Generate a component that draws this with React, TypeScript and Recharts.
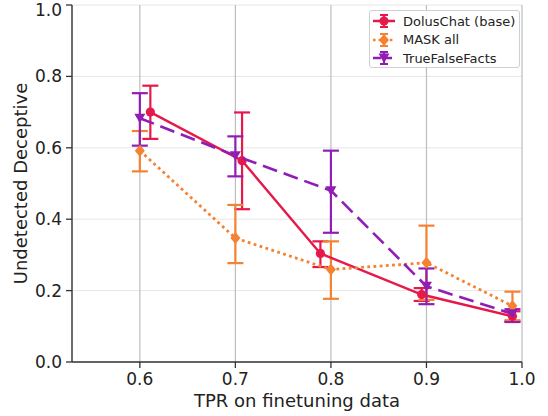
import React from 'react';
import { ScatterChart, Scatter, XAxis, YAxis, CartesianGrid, ErrorBar } from 'recharts';

// DolusChat (base)
const dolusX = [0.611, 0.707, 0.789, 0.895, 0.99];
const dolusY = [0.7, 0.564, 0.304, 0.189, 0.128];
const dolusHi = [0.774, 0.699, 0.338, 0.207, 0.142];
const dolusLo = [0.625, 0.428, 0.266, 0.171, 0.114];

// MASK all
const maskX = [0.6, 0.7, 0.8, 0.9, 0.99];
const maskY = [0.592, 0.347, 0.259, 0.278, 0.157];
const maskHi = [0.647, 0.44, 0.338, 0.382, 0.197];
const maskLo = [0.534, 0.277, 0.177, 0.174, 0.117];

// TrueFalseFacts
const tffX = [0.6, 0.7, 0.8, 0.9, 0.99];
const tffY = [0.683, 0.578, 0.48, 0.212, 0.135];
const tffHi = [0.753, 0.632, 0.592, 0.262, 0.148];
const tffLo = [0.606, 0.52, 0.362, 0.162, 0.112];

const xTicks = [0.6, 0.7, 0.8, 0.9, 1.0];
const yTicks = [0, 0.2, 0.4, 0.6, 0.8, 1.0];

const RED = '#e6194b';
const ORANGE = '#f58231';
const PURPLE = '#911eb4';
const FONT = '"DejaVu Sans", sans-serif';

const build = (xs: number[], ys: number[], hi: number[], lo: number[]) =>
  xs.map((x, i) => ({ x, y: ys[i], err: [ys[i] - lo[i], hi[i] - ys[i]] }));

const dolusData = build(dolusX, dolusY, dolusHi, dolusLo);
const maskData = build(maskX, maskY, maskHi, maskLo);
const tffData = build(tffX, tffY, tffHi, tffLo);

const Circle = ({ cx, cy }: any) => <circle cx={cx} cy={cy} r={4.6} fill={RED} />;
const Diamond = ({ cx, cy }: any) => (
  <polygon points={`${cx},${cy - 6} ${cx + 5},${cy} ${cx},${cy + 6} ${cx - 5},${cy}`} fill={ORANGE} />
);
const TriDown = ({ cx, cy }: any) => (
  <polygon points={`${cx - 5.5},${cy - 4.5} ${cx + 5.5},${cy - 4.5} ${cx},${cy + 5}`} fill={PURPLE} />
);

const legendItems = [
  { name: 'DolusChat (base)', color: RED, dash: undefined, marker: 'circle' },
  { name: 'MASK all', color: ORANGE, dash: '2.6 3', marker: 'diamond' },
  { name: 'TrueFalseFacts', color: PURPLE, dash: '8 3', marker: 'tri' },
];

function LegendIcon({ color, dash, marker }: any) {
  const cx = 11;
  const cy = 8;
  return (
    <svg width={24} height={16} style={{ display: 'block' }}>
      <line x1={0} y1={cy} x2={22} y2={cy} stroke={color} strokeWidth={2.5} strokeDasharray={dash} />
      <line x1={cx} y1={cy - 6} x2={cx} y2={cy + 6} stroke={color} strokeWidth={2.2} />
      <line x1={cx - 4} y1={cy - 6} x2={cx + 4} y2={cy - 6} stroke={color} strokeWidth={2} />
      <line x1={cx - 4} y1={cy + 6} x2={cx + 4} y2={cy + 6} stroke={color} strokeWidth={2} />
      {marker === 'circle' && <Circle cx={cx} cy={cy} />}
      {marker === 'diamond' && <Diamond cx={cx} cy={cy} />}
      {marker === 'tri' && <TriDown cx={cx} cy={cy} />}
    </svg>
  );
}

export default function App() {
  return (
    <div style={{ position: 'absolute', left: 0, top: 0, width: 548, height: 416, background: '#fff', fontFamily: FONT }}>
      <ScatterChart width={548} height={416} margin={{ top: 5, right: 26, bottom: 0, left: 0 }}>
        <CartesianGrid horizontal={true} vertical={false} stroke="#e6e6e6" strokeWidth={1} />
        <CartesianGrid horizontal={false} vertical={true} stroke="#bdbdbd" strokeWidth={1.2} />
        <XAxis
          type="number"
          dataKey="x"
          domain={[0.529, 1.0]}
          ticks={xTicks}
          allowDataOverflow
          tickFormatter={(v: number) => v.toFixed(1)}
          tick={{ fill: '#222', fontSize: 17, fontFamily: FONT }}
          tickSize={6}
          tickMargin={5}
          axisLine={{ stroke: '#333', strokeWidth: 1.3 }}
          tickLine={{ stroke: '#333', strokeWidth: 1.3 }}
          height={54}
          label={{ value: 'TPR on finetuning data', position: 'insideBottom', offset: 9, fill: '#222', fontSize: 18, fontFamily: FONT }}
        />
        <YAxis
          type="number"
          dataKey="y"
          domain={[0, 1]}
          ticks={yTicks}
          allowDataOverflow
          tickFormatter={(v: number) => v.toFixed(1)}
          tick={{ fill: '#222', fontSize: 17, fontFamily: FONT }}
          tickSize={6}
          tickMargin={4}
          axisLine={{ stroke: '#333', strokeWidth: 1.3 }}
          tickLine={{ stroke: '#333', strokeWidth: 1.3 }}
          width={72}
          label={() => (
            <text
              x={20}
              y={183.5}
              transform="rotate(-90 20 183.5)"
              textAnchor="middle"
              dominantBaseline="central"
              fill="#222"
              fontSize={18}
              fontFamily={FONT}
            >
              Undetected Deceptive
            </text>
          )}
        />
        <Scatter
          name="DolusChat (base)"
          data={dolusData}
          fill={RED}
          line={{ stroke: RED, strokeWidth: 2.4 }}
          lineType="joint"
          shape={Circle}
          isAnimationActive={false}
        >
          <ErrorBar dataKey="err" direction="y" width={8} stroke={RED} strokeWidth={2.2} />
        </Scatter>
        <Scatter
          name="MASK all"
          data={maskData}
          fill={ORANGE}
          line={{ stroke: ORANGE, strokeWidth: 2.8, strokeDasharray: '2.8 3.4' }}
          lineType="joint"
          shape={Diamond}
          isAnimationActive={false}
        >
          <ErrorBar dataKey="err" direction="y" width={8} stroke={ORANGE} strokeWidth={2.2} />
        </Scatter>
        <Scatter
          name="TrueFalseFacts"
          data={tffData}
          fill={PURPLE}
          line={{ stroke: PURPLE, strokeWidth: 2.6, strokeDasharray: '15 7' }}
          lineType="joint"
          shape={TriDown}
          isAnimationActive={false}
        >
          <ErrorBar dataKey="err" direction="y" width={8} stroke={PURPLE} strokeWidth={2.2} />
        </Scatter>
      </ScatterChart>
      <div
        style={{
          position: 'absolute',
          left: 369,
          top: 10,
          width: 146,
          height: 55,
          border: '1px solid #d0d0d0',
          borderRadius: 3,
          background: 'rgba(255,255,255,0.85)',
          padding: '1px 0 0 3px',
          boxSizing: 'content-box',
        }}
      >
        {legendItems.map((it) => (
          <div key={it.name} style={{ display: 'flex', alignItems: 'center', height: 18.5 }}>
            <LegendIcon color={it.color} dash={it.dash} marker={it.marker} />
            <span style={{ marginLeft: 6, fontSize: 13, color: '#222', fontFamily: FONT, whiteSpace: 'nowrap' }}>{it.name}</span>
          </div>
        ))}
      </div>
    </div>
  );
}
